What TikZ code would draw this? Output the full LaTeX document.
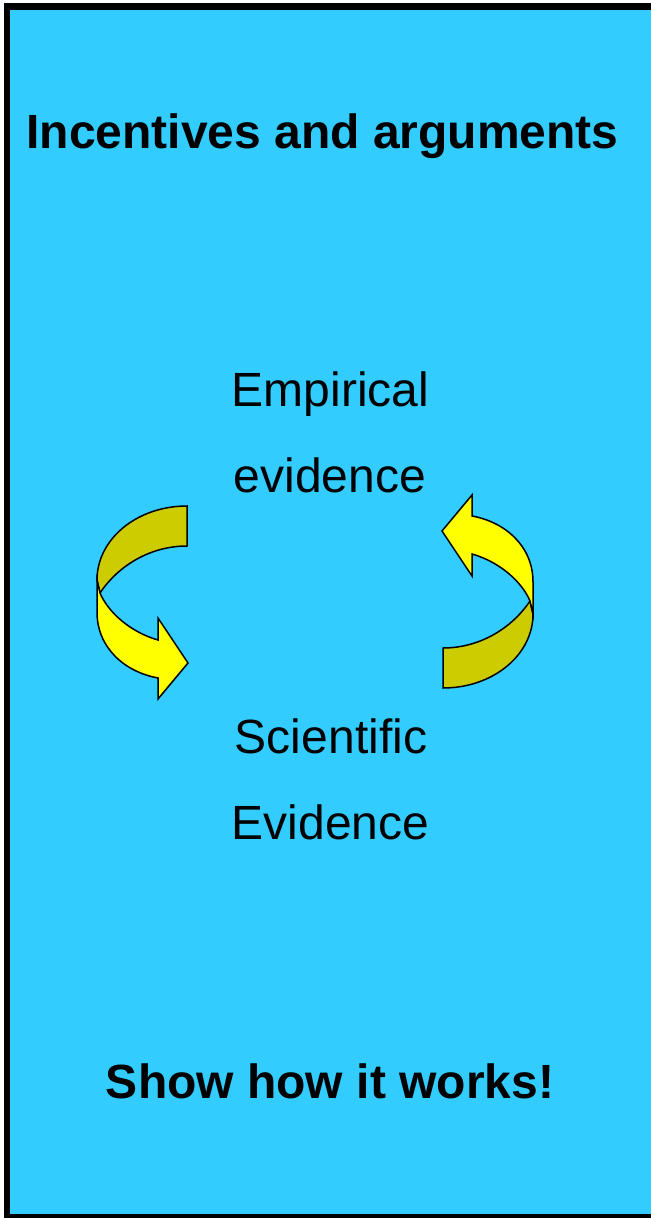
\documentclass[tikz,border=0pt]{standalone}
\usepackage{fontspec}
\setmainfont{Liberation Sans}
\definecolor{panelblue}{HTML}{33CCFF}
\definecolor{ribbonback}{HTML}{CCCC00}
\definecolor{ribbonfront}{HTML}{FFFF00}
% one half loop of the ribbon arrow, in pixel units
\newcommand{\halfloop}{%
  \draw[ribbon, fill=ribbonback] (187,506) .. controls (137,506) and (97,539) .. (97,580)
    -- (100,593) .. controls (118,566) and (150,546) .. (187,546) -- cycle;
  \draw[ribbon, fill=ribbonfront] (97,580) -- (97,612) .. controls (97,648) and (125,672) .. (158,678)
    -- (158,699) -- (188,663) -- (158,618) -- (158,640)
    .. controls (130,632) and (108,612) .. (100,593) -- cycle;
}
\begin{document}
\begin{tikzpicture}[x=0.5pt, y=-0.5pt]
  \tikzset{title/.style={font=\fontsize{24}{29}\selectfont\bfseries, anchor=base, inner sep=0pt},
           label/.style={font=\fontsize{24}{29}\selectfont, anchor=base, inner sep=0pt},
           ribbon/.style={draw=black, line width=0.75pt, line join=miter}}
  \useasboundingbox (0,0) rectangle (650,1218);
  \fill[white] (0,0) rectangle (650,1218);
  \draw[fill=panelblue, line width=3.2pt] (7,6.7) rectangle (656,1217);
  \node[title] (head) at (322.5,149) {Incentives and arguments};
  \node[label] (emp) at (330.5,407) {Empirical};
  \node[label] (empev) at (330,493) {evidence};
  \node[label] (sci) at (331,753) {Scientific};
  \node[label] (sciev) at (330.5,839) {Evidence};
  \node[title] (foot) at (330,1098) {Show how it works!};
  \halfloop
  \begin{scope}[shift={(630,1194)}, rotate=180]
    \halfloop
  \end{scope}
\end{tikzpicture}
\end{document}
